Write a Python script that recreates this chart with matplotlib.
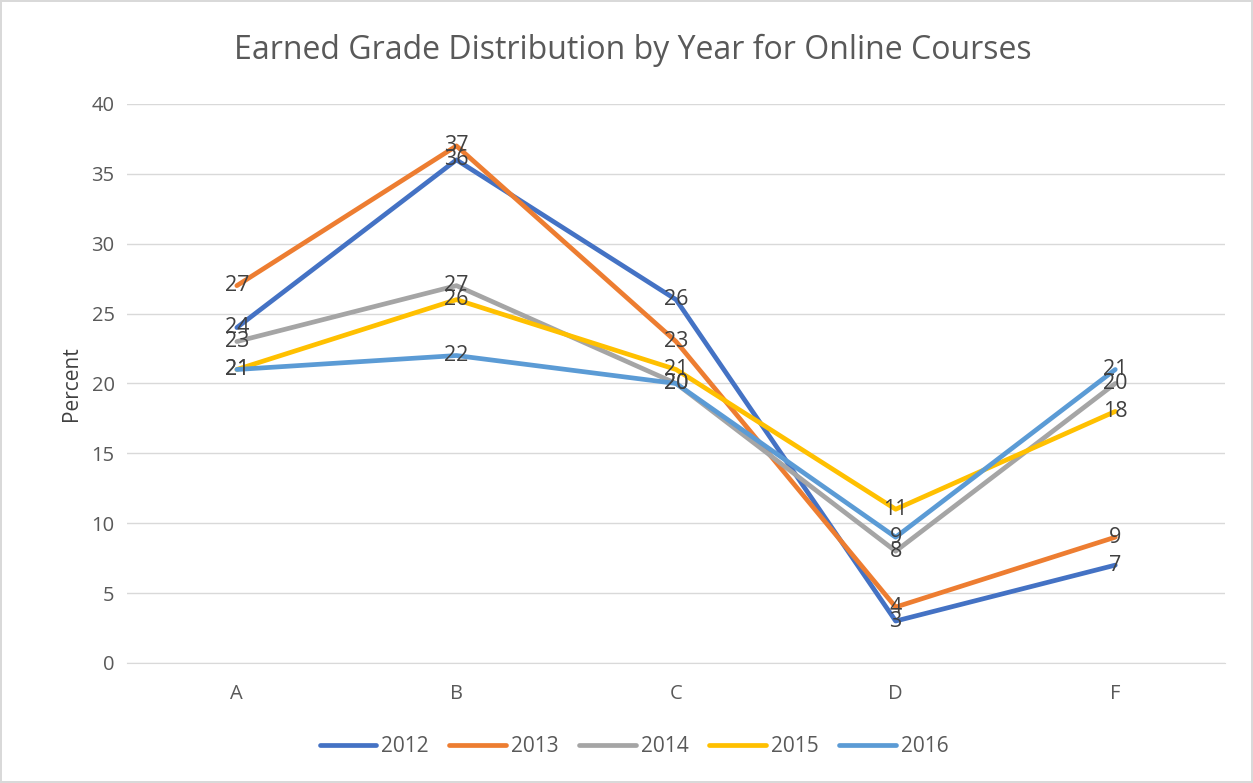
# 載入套件
import matplotlib
matplotlib.use("Agg")
import matplotlib.pyplot as plt

# 資料
grades = ["A", "B", "C", "D", "F"]
years = ["2012", "2013", "2014", "2015", "2016"]
y2012 = [24, 36, 26, 3, 7]
y2013 = [27, 37, 23, 4, 9]
y2014 = [23, 27, 20, 8, 20]
y2015 = [21, 26, 21, 11, 18]
y2016 = [21, 22, 20, 9, 21]
series = [y2012, y2013, y2014, y2015, y2016]
colors = ["#4472C4", "#ED7D31", "#A5A5A5", "#FFC000", "#5B9BD5"]

plt.rcParams["font.family"] = ["Open Sans", "DejaVu Sans"]

fig = plt.figure(figsize=(12.53, 7.83), dpi=100)
fig.patch.set_edgecolor("#D9D9D9")
fig.patch.set_linewidth(1.5)
ax = fig.add_axes([0.1014, 0.1533, 0.8763, 0.7139])

x = list(range(len(grades)))
for vals, name, c in zip(series, years, colors):
    ax.plot(x, vals, color=c, lw=3.4, label=name, solid_capstyle="round")
for vals in series:
    for i, v in enumerate(vals):
        ax.text(i, v, str(v), ha="center", va="center", fontsize=15.5,
                color="#404040", zorder=5)

ax.set_xlim(-0.5, 4.5)
ax.set_ylim(0, 40)
ax.set_yticks(range(0, 41, 5))
ax.set_xticks(x)
ax.set_xticklabels(grades)
ax.grid(axis="y", color="#D9D9D9", lw=1)
ax.set_axisbelow(True)
for s in ["top", "right", "left"]:
    ax.spines[s].set_visible(False)
ax.spines["bottom"].set_color("#D9D9D9")
ax.tick_params(axis="both", length=0, labelsize=14.5, colors="#595959")
ax.tick_params(axis="x", pad=15)
ax.tick_params(axis="y", pad=9)
ax.set_ylabel("Percent", fontsize=15, color="#404040", labelpad=7)

fig.text(0.505, 1 - 50 / 783, "Earned Grade Distribution by Year for Online Courses",
         ha="center", va="center", fontsize=23, color="#595959")

fig.legend(loc="center", bbox_to_anchor=(0.506, 1 - 747 / 783), ncol=5,
           frameon=False, fontsize=15, handlelength=2.7, handletextpad=0.25,
           columnspacing=1.0, labelcolor="#595959")

plt.savefig("out.png", dpi=100)
